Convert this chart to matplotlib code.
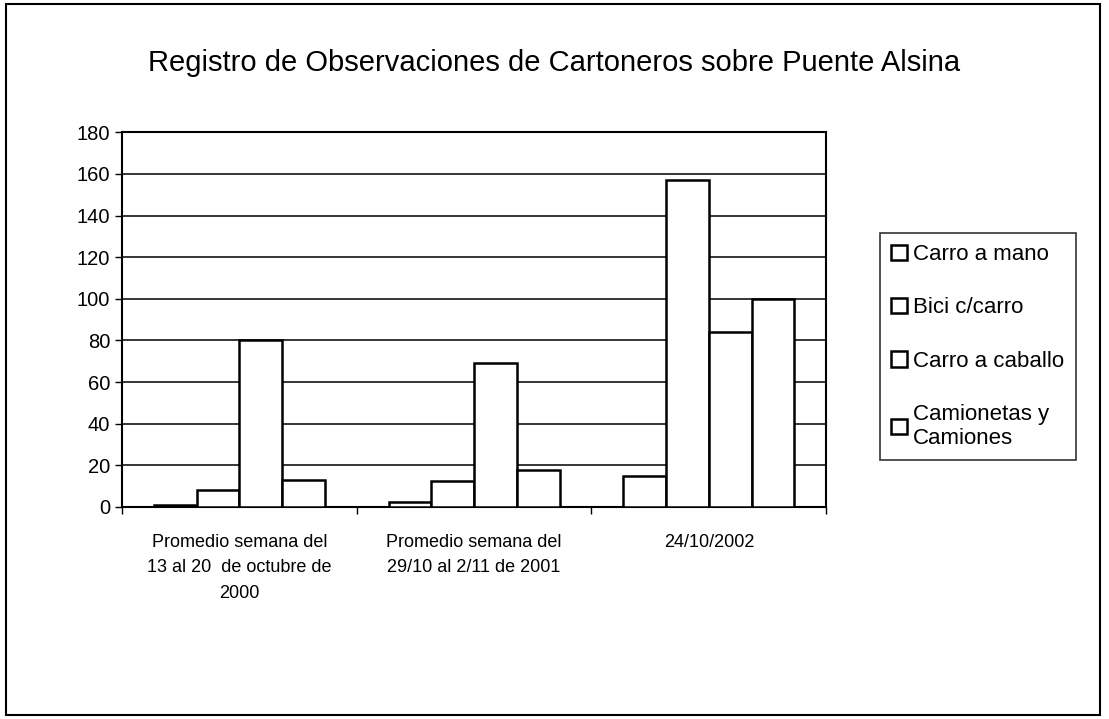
import numpy as np
import matplotlib
matplotlib.use("Agg")
import matplotlib.pyplot as plt
from matplotlib.patches import Rectangle

plt.rcParams['font.family'] = ['Liberation Sans', 'DejaVu Sans']

# data
categories = ["Promedio semana del\n13 al 20  de octubre de\n2000",
              "Promedio semana del\n29/10 al 2/11 de 2001",
              "24/10/2002"]
series_names = ["Carro a mano", "Bici c/carro", "Carro a caballo",
                "Camionetas y\nCamiones"]
carro_mano = [1, 2.5, 15]
bici = [8, 12.5, 157]
caballo = [80, 69, 84]
camionetas = [13, 17.5, 100]
y_ticks = list(range(0, 181, 20))

values = [carro_mano, bici, caballo, camionetas]

fig = plt.figure(figsize=(11.09, 7.19), dpi=100)
ax = fig.add_axes([0.110, 0.295, 0.635, 0.521])

# outer frame of the chart
fig.patches.append(Rectangle((0.005, 0.006), 0.987, 0.989, transform=fig.transFigure,
                             fill=False, edgecolor='black', linewidth=1.5))

x = np.arange(len(categories))
w = 0.182
for i, (name, vals) in enumerate(zip(series_names, values)):
    ax.bar(x + (i - 1.5) * w, vals, width=w, color='white', edgecolor='black',
           linewidth=1.8, label=name, zorder=3)

ax.set_xlim(-0.5, 2.5)
ax.set_ylim(0, 180)
ax.set_yticks(y_ticks)
ax.tick_params(axis='y', labelsize=14.5, length=5, width=1, direction='out')
ax.yaxis.grid(True, color='black', linewidth=1.1, zorder=0)

# category labels centred, ticks on category boundaries
ax.set_xticks([-0.5, 0.5, 1.5, 2.5])
ax.set_xticklabels([])
ax.tick_params(axis='x', length=5, width=1, direction='out')
for xi, lab in zip(x, categories):
    ax.text(xi, -13, lab, ha='center', va='top', fontsize=13, linespacing=1.65,
            transform=ax.transData)

for s in ax.spines.values():
    s.set_linewidth(1.5)
    s.set_color('black')

fig.text(0.50, 0.912, "Registro de Observaciones de Cartoneros sobre Puente Alsina",
         ha='center', va='center', fontsize=21)

leg = fig.legend(loc='upper left', bbox_to_anchor=(0.7935, 0.676), fontsize=16,
                 frameon=True, fancybox=False, edgecolor='black', labelspacing=1.45,
                 handlelength=0.7, handleheight=0.7, handletextpad=0.3,
                 borderpad=0.5, borderaxespad=0)
leg.get_frame().set_linewidth(1.2)
for h in leg.legend_handles:
    h.set_linewidth(1.8)

fig.savefig("out.png", dpi=100, facecolor='white')
